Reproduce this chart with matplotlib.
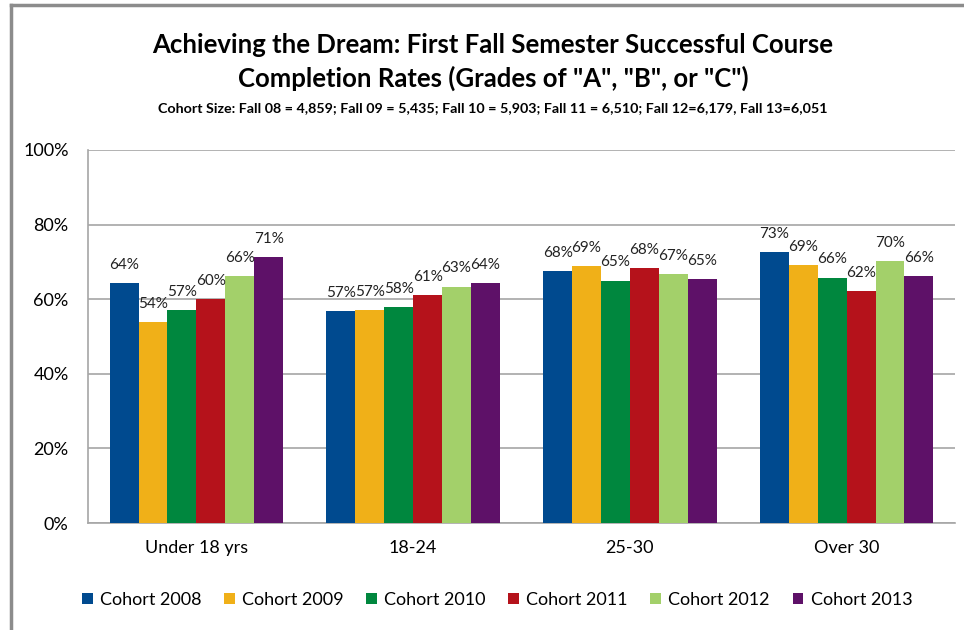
import matplotlib
matplotlib.use("Agg")
import matplotlib.pyplot as plt
import numpy as np
from matplotlib.lines import Line2D

plt.rcParams['font.family'] = ['Lato', 'DejaVu Sans']

categories = ["Under 18 yrs", "18-24", "25-30", "Over 30"]
cohorts = ["Cohort 2008", "Cohort 2009", "Cohort 2010", "Cohort 2011", "Cohort 2012", "Cohort 2013"]
# completion rate (%) per cohort, one value per age group
rate_2008 = [64.3, 56.8, 67.6, 72.6]
rate_2009 = [53.9, 57.2, 68.8, 69.1]
rate_2010 = [57.1, 58.0, 65.0, 65.8]
rate_2011 = [60.0, 61.0, 68.4, 62.2]
rate_2012 = [66.1, 63.4, 66.7, 70.3]
rate_2013 = [71.4, 64.3, 65.4, 66.1]
rates = [rate_2008, rate_2009, rate_2010, rate_2011, rate_2012, rate_2013]
colors = ["#004A8F", "#F0B018", "#00873E", "#B5121B", "#A3D06A", "#5E1168"]

fig = plt.figure(figsize=(9.64, 6.3), dpi=100)
ax = fig.add_axes([88/964, 1 - 523/630, (955-88)/964, (523-150)/630])

x = np.arange(len(categories))
n = len(cohorts)
w = 0.8 / n
for i, (name, vals, c) in enumerate(zip(cohorts, rates, colors)):
    pos = x - 0.4 + w * (i + 0.5)
    ax.bar(pos, vals, width=w, color=c, label=name, zorder=3)
    for px, v in zip(pos, vals):
        ax.annotate(f"{round(v):d}%", (px, v), xytext=(0, 8), textcoords="offset points",
                    ha="center", va="bottom", fontsize=11, color="#222222", zorder=4)

ax.set_xlim(-0.5, len(categories) - 0.5)
ax.set_ylim(0, 100)
ax.set_yticks(range(0, 101, 20))
ax.set_yticklabels([f"{t}%" for t in range(0, 101, 20)], fontsize=13)
ax.set_xticks(x)
ax.set_xticklabels(categories, fontsize=13)
ax.tick_params(length=0, pad=14)
ax.tick_params(axis="x", pad=12)
ax.grid(axis="y", color="#A6A6A6", linewidth=1.2, zorder=0)
for s in ["top", "right"]:
    ax.spines[s].set_visible(False)
ax.spines["left"].set_color("#A6A6A6")
ax.spines["bottom"].set_color("#A6A6A6")
ax.spines["left"].set_linewidth(1.2)
ax.spines["bottom"].set_linewidth(1.2)

fig.text(493/964, 1 - 45/630, "Achieving the Dream: First Fall Semester Successful Course",
         ha="center", va="center", fontsize=18.5, fontweight="bold")
fig.text(493/964, 1 - 78/630, 'Completion Rates (Grades of "A", "B", or "C")',
         ha="center", va="center", fontsize=18.5, fontweight="bold")
fig.text(493/964, 1 - 108/630,
         "Cohort Size: Fall 08 = 4,859; Fall 09 = 5,435; Fall 10 = 5,903; Fall 11 = 6,510; Fall 12=6,179, Fall 13=6,051",
         ha="center", va="center", fontsize=10.3, fontweight="bold")

fig.legend(loc="center", bbox_to_anchor=(497/964, 1 - 600/630), ncol=6, frameon=False,
           fontsize=13, handlelength=0.6, handleheight=0.6, handletextpad=0.4, columnspacing=1.25)

# outer frame of the chart
fig.add_artist(Line2D([11/964, 11/964], [0, 1 - 5/630], color="#8C8C8C", linewidth=2.5))
fig.add_artist(Line2D([11/964, 1], [1 - 5/630, 1 - 5/630], color="#8C8C8C", linewidth=2.5))

fig.savefig("out.png", dpi=100)
